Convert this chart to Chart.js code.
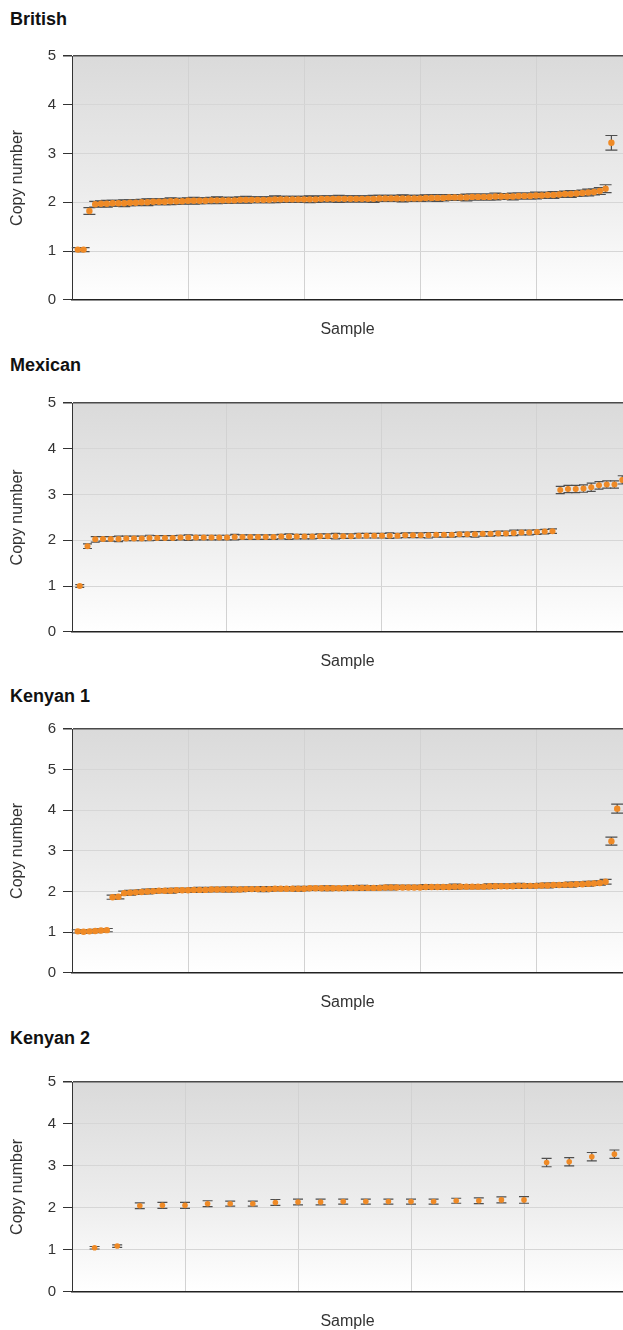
<!DOCTYPE html>
<html>
<head>
<meta charset="utf-8">
<script src="https://cdn.jsdelivr.net/npm/chart.js"></script>
<style>
  html, body { margin: 0; padding: 0; background: #ffffff; }
  body { position: relative; width: 623px; height: 1330px; overflow: hidden; font-family: "Liberation Sans", Arial, sans-serif; }
  .panel-title { position: absolute; left: 10px; font-weight: bold; font-size: 18px; line-height: 18px; color: #111; white-space: nowrap; }
  canvas { position: absolute; left: 0; }
</style>
</head>
<body>
<div class="panel-title" style="top:10px">British</div>
<canvas id="british" width="623" height="303" style="top:36px"></canvas>
<div class="panel-title" style="top:356px">Mexican</div>
<canvas id="mexican" width="623" height="288" style="top:383px"></canvas>
<div class="panel-title" style="top:687px">Kenyan 1</div>
<canvas id="kenyan1" width="623" height="303" style="top:709px"></canvas>
<div class="panel-title" style="top:1029px">Kenyan 2</div>
<canvas id="kenyan2" width="623" height="269" style="top:1062px"></canvas>
<script>
// Copy number per sample, sorted ascending, with the error (+/-) for each sample.
const britishCN = [
  1.03, 1.03, 1.82, 1.96, 1.97, 1.97, 1.98, 1.98, 1.98, 1.99,
  1.99, 2.00, 2.00, 2.01, 2.01, 2.01, 2.02, 2.02, 2.02, 2.03,
  2.03, 2.03, 2.03, 2.04, 2.04, 2.04, 2.04, 2.04, 2.05, 2.05,
  2.05, 2.05, 2.05, 2.05, 2.06, 2.06, 2.06, 2.06, 2.06, 2.06,
  2.06, 2.06, 2.07, 2.07, 2.07, 2.07, 2.07, 2.07, 2.07, 2.07,
  2.07, 2.07, 2.08, 2.08, 2.08, 2.08, 2.08, 2.08, 2.08, 2.08,
  2.09, 2.09, 2.09, 2.09, 2.10, 2.10, 2.10, 2.10, 2.11, 2.11,
  2.11, 2.11, 2.12, 2.12, 2.12, 2.12, 2.13, 2.13, 2.13, 2.14,
  2.14, 2.15, 2.15, 2.16, 2.17, 2.17, 2.18, 2.19, 2.20, 2.21,
  2.23, 2.28, 3.22
];
const britishErr = [
  0.04, 0.04, 0.07, 0.06, 0.06, 0.07, 0.06, 0.06, 0.07, 0.06,
  0.06, 0.06, 0.07, 0.06, 0.06, 0.06, 0.07, 0.06, 0.06, 0.06,
  0.07, 0.06, 0.06, 0.06, 0.07, 0.06, 0.06, 0.06, 0.06, 0.07,
  0.06, 0.06, 0.06, 0.06, 0.07, 0.06, 0.06, 0.06, 0.06, 0.06,
  0.07, 0.06, 0.06, 0.06, 0.06, 0.07, 0.06, 0.06, 0.06, 0.06,
  0.06, 0.07, 0.06, 0.06, 0.06, 0.06, 0.07, 0.06, 0.06, 0.06,
  0.06, 0.06, 0.07, 0.06, 0.06, 0.06, 0.06, 0.07, 0.06, 0.06,
  0.06, 0.06, 0.07, 0.06, 0.06, 0.07, 0.06, 0.06, 0.06, 0.07,
  0.06, 0.06, 0.07, 0.06, 0.06, 0.07, 0.06, 0.06, 0.07, 0.06,
  0.07, 0.08, 0.15
];

const mexicanCN = [
  1.00, 1.87, 2.02, 2.03, 2.03, 2.03, 2.04, 2.04, 2.04, 2.05,
  2.05, 2.05, 2.05, 2.06, 2.06, 2.06, 2.06, 2.06, 2.06, 2.06,
  2.07, 2.07, 2.07, 2.07, 2.07, 2.07, 2.08, 2.08, 2.08, 2.08,
  2.08, 2.09, 2.09, 2.09, 2.09, 2.09, 2.10, 2.10, 2.10, 2.10,
  2.10, 2.10, 2.11, 2.11, 2.11, 2.11, 2.12, 2.12, 2.12, 2.13,
  2.13, 2.13, 2.14, 2.14, 2.15, 2.15, 2.16, 2.17, 2.17, 2.18,
  2.19, 2.20, 3.10, 3.12, 3.12, 3.13, 3.16, 3.20, 3.22, 3.22,
  3.32
];
const mexicanErr = [
  0.03, 0.05, 0.06, 0.05, 0.05, 0.06, 0.05, 0.05, 0.05, 0.06,
  0.05, 0.05, 0.05, 0.05, 0.06, 0.05, 0.05, 0.05, 0.05, 0.05,
  0.06, 0.05, 0.05, 0.05, 0.05, 0.05, 0.05, 0.06, 0.05, 0.05,
  0.05, 0.05, 0.05, 0.06, 0.05, 0.05, 0.05, 0.05, 0.05, 0.05,
  0.06, 0.05, 0.05, 0.05, 0.05, 0.06, 0.05, 0.05, 0.05, 0.05,
  0.05, 0.06, 0.05, 0.05, 0.05, 0.05, 0.06, 0.05, 0.05, 0.05,
  0.05, 0.05, 0.08, 0.08, 0.08, 0.08, 0.09, 0.08, 0.08, 0.08,
  0.09
];

const kenyan1CN = [
  1.02, 1.01, 1.02, 1.03, 1.04, 1.05, 1.86, 1.87, 1.96, 1.97,
  1.98, 1.99, 2.00, 2.01, 2.02, 2.02, 2.02, 2.03, 2.03, 2.03,
  2.04, 2.04, 2.04, 2.05, 2.05, 2.05, 2.05, 2.05, 2.05, 2.06,
  2.06, 2.06, 2.06, 2.06, 2.07, 2.07, 2.07, 2.07, 2.07, 2.07,
  2.08, 2.08, 2.08, 2.08, 2.08, 2.08, 2.08, 2.09, 2.09, 2.09,
  2.09, 2.09, 2.09, 2.10, 2.10, 2.10, 2.10, 2.10, 2.10, 2.10,
  2.11, 2.11, 2.11, 2.11, 2.11, 2.12, 2.12, 2.12, 2.12, 2.12,
  2.12, 2.13, 2.13, 2.13, 2.13, 2.13, 2.14, 2.14, 2.14, 2.14,
  2.15, 2.15, 2.16, 2.16, 2.17, 2.17, 2.18, 2.18, 2.19, 2.20,
  2.21, 2.24, 3.24, 4.04
];
const kenyan1Err = [
  0.04, 0.04, 0.04, 0.04, 0.04, 0.04, 0.05, 0.05, 0.05, 0.06,
  0.05, 0.05, 0.06, 0.05, 0.05, 0.05, 0.06, 0.05, 0.05, 0.05,
  0.05, 0.06, 0.05, 0.05, 0.05, 0.05, 0.06, 0.05, 0.05, 0.05,
  0.05, 0.05, 0.06, 0.05, 0.05, 0.05, 0.05, 0.05, 0.06, 0.05,
  0.05, 0.05, 0.05, 0.06, 0.05, 0.05, 0.05, 0.05, 0.05, 0.06,
  0.05, 0.05, 0.05, 0.05, 0.06, 0.05, 0.05, 0.05, 0.05, 0.05,
  0.06, 0.05, 0.05, 0.05, 0.05, 0.06, 0.05, 0.05, 0.05, 0.05,
  0.05, 0.06, 0.05, 0.05, 0.05, 0.05, 0.06, 0.05, 0.05, 0.05,
  0.05, 0.06, 0.05, 0.05, 0.05, 0.06, 0.05, 0.05, 0.06, 0.05,
  0.05, 0.06, 0.10, 0.11
];

const kenyan2CN = [
  1.05, 1.09, 2.05, 2.06, 2.06, 2.10, 2.10, 2.10, 2.13, 2.14,
  2.14, 2.15, 2.15, 2.15, 2.15, 2.15, 2.17, 2.17, 2.19, 2.19,
  3.08, 3.10, 3.22, 3.28
];
const kenyan2Err = [
  0.03, 0.03, 0.07, 0.07, 0.07, 0.07, 0.06, 0.06, 0.07, 0.07,
  0.07, 0.06, 0.06, 0.06, 0.06, 0.06, 0.06, 0.07, 0.07, 0.08,
  0.10, 0.10, 0.10, 0.10
];

// Y-axis tick values per panel
const yTicks5 = [0, 1, 2, 3, 4, 5];
const yTicks6 = [0, 1, 2, 3, 4, 5, 6];

const ORANGE = '#ef8a26';
const LABEL_FONT = "'Liberation Sans', Arial, sans-serif";

// Grey-to-white wash behind the plot area
const plotBackground = {
  id: 'plotBackground',
  beforeDraw(chart) {
    const {ctx, chartArea: {left, top, right, bottom}} = chart;
    const g = ctx.createLinearGradient(0, top, 0, bottom);
    g.addColorStop(0, '#dadada');
    g.addColorStop(0.55, '#ececec');
    g.addColorStop(1, '#ffffff');
    ctx.save();
    ctx.fillStyle = g;
    ctx.fillRect(left, top, right - left, bottom - top);
    ctx.restore();
  }
};

// Vertical error bars with caps, drawn beneath the sample markers
const errorBars = {
  id: 'errorBars',
  beforeDatasetsDraw(chart, args, opts) {
    const {ctx} = chart;
    const xs = chart.scales.x, ys = chart.scales.y;
    const half = opts.capHalfWidth || 5;
    ctx.save();
    ctx.strokeStyle = opts.color || '#555';
    ctx.lineWidth = opts.lineWidth || 1.2;
    chart.data.datasets.forEach(ds => {
      const errs = ds.errors || [];
      ds.data.forEach((p, i) => {
        const e = errs[i];
        if (e == null) return;
        const x = xs.getPixelForValue(p.x);
        const yHi = ys.getPixelForValue(p.y + e);
        const yLo = ys.getPixelForValue(p.y - e);
        ctx.beginPath();
        ctx.moveTo(x, yHi); ctx.lineTo(x, yLo);
        ctx.moveTo(x - half, yHi); ctx.lineTo(x + half, yHi);
        ctx.moveTo(x - half, yLo); ctx.lineTo(x + half, yLo);
        ctx.stroke();
      });
    });
    ctx.restore();
  }
};

function makePanel(id, values, errors, opts) {
  const points = values.map((v, i) => ({x: i + 1, y: v}));
  const yMax = opts.yTicks[opts.yTicks.length - 1];
  return new Chart(document.getElementById(id), {
    type: 'scatter',
    data: {
      datasets: [{
        data: points,
        errors: errors,
        pointRadius: opts.radius,
        pointBackgroundColor: ORANGE,
        pointBorderWidth: 0,
        showLine: false,
        clip: false
      }]
    },
    options: {
      responsive: false,
      animation: false,
      events: [],
      layout: {autoPadding: false, padding: {top: 20, left: 0, right: 0, bottom: 0}},
      plugins: {
        legend: {display: false},
        tooltip: {enabled: false},
        errorBars: {capHalfWidth: opts.capHalf, color: '#4e4e4e', lineWidth: 1.2}
      },
      scales: {
        x: {
          type: 'linear',
          min: 0,
          max: opts.xMax,
          ticks: {display: false, stepSize: opts.xStep, includeBounds: false},
          grid: {
            drawTicks: false,
            color: c => (c.tick && c.tick.value === 0) ? 'rgba(0,0,0,0)' : '#d2d2d2',
            lineWidth: 1
          },
          border: {display: true, color: '#222', width: 1.5},
          title: {
            display: true, text: 'Sample', color: '#333',
            font: {family: LABEL_FONT, size: 16},
            padding: {top: 20, bottom: 0}
          }
        },
        y: {
          type: 'linear',
          min: 0,
          max: yMax,
          afterBuildTicks: s => { s.ticks = opts.yTicks.map(v => ({value: v})); },
          afterFit: s => { s.width = 72; },
          ticks: {
            color: '#333', padding: 7,
            font: {family: LABEL_FONT, size: 15}
          },
          grid: {
            drawTicks: true,
            tickLength: 9,
            tickColor: '#333',
            color: c => {
              if (!c.tick) return '#d6d6d6';
              if (c.tick.value === yMax) return '#4a4a4a';
              if (c.tick.value === 0) return 'rgba(0,0,0,0)';
              return '#d6d6d6';
            },
            lineWidth: c => (c.tick && c.tick.value === yMax) ? 1.5 : 1
          },
          border: {display: true, color: '#333', width: 1},
          title: {
            display: true, text: 'Copy number', color: '#333',
            font: {family: LABEL_FONT, size: 16},
            padding: {top: 8, bottom: 0}
          }
        }
      }
    },
    plugins: [plotBackground, errorBars]
  });
}

makePanel('british', britishCN, britishErr, {xMax: 95, xStep: 20, yTicks: yTicks5, radius: 3.2, capHalf: 6});
makePanel('mexican', mexicanCN, mexicanErr, {xMax: 71.1, xStep: 20, yTicks: yTicks5, radius: 3, capHalf: 4.5});
makePanel('kenyan1', kenyan1CN, kenyan1Err, {xMax: 95, xStep: 20, yTicks: yTicks6, radius: 3.2, capHalf: 6});
makePanel('kenyan2', kenyan2CN, kenyan2Err, {xMax: 24.38, xStep: 5, yTicks: yTicks5, radius: 2.8, capHalf: 5});
</script>
</body>
</html>
